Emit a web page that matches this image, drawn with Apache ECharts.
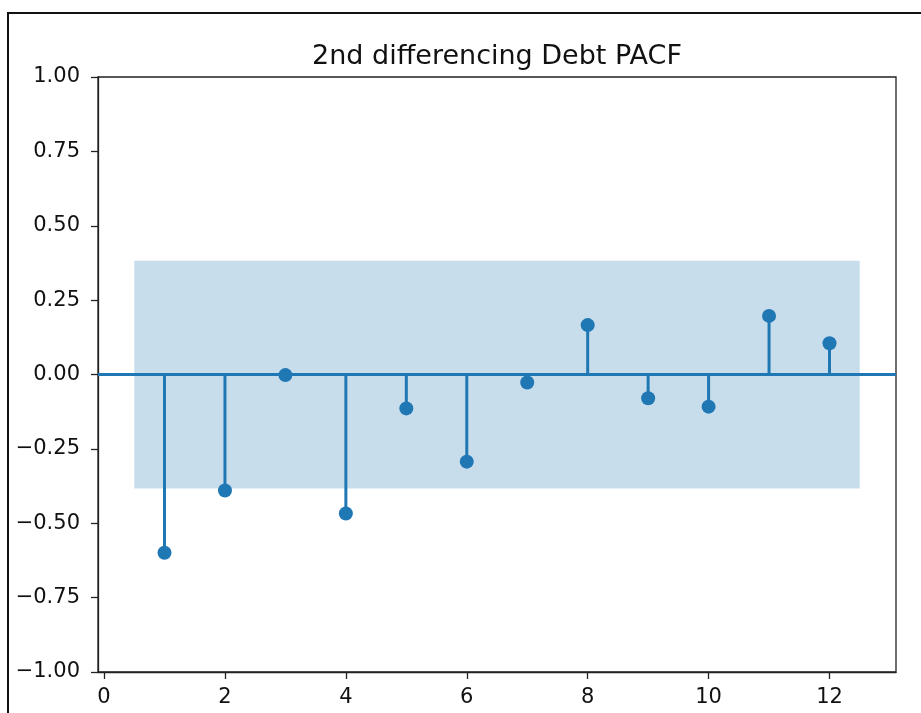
<!DOCTYPE html>
<html>
<head>
<meta charset="utf-8">
<script src="https://cdn.jsdelivr.net/npm/echarts@6/dist/echarts.min.js"></script>
<style>
html,body{margin:0;padding:0;background:#fff;}
#chart{width:921px;height:713px;}
</style>
</head>
<body>
<div id="chart"></div>
<script>
const titleText = "2nd differencing Debt PACF";
const lags = [1, 2, 3, 4, 5, 6, 7, 8, 9, 10, 11, 12];
const pacfValues = [-0.599, -0.390, -0.002, -0.467, -0.114, -0.293, -0.027, 0.166, -0.080, -0.108, 0.197, 0.105];
const confUpper = 0.382;
const confLower = -0.383;
const bandStart = 0.5;
const bandEnd = 12.5;
const xTicks = [0, 2, 4, 6, 8, 10, 12];
const yTicks = [-1.0, -0.75, -0.5, -0.25, 0, 0.25, 0.5, 0.75, 1.0];

const C0 = '#1f77b4';
const FONT = 'DejaVu Sans';

function fmtY(v) {
  const s = Math.abs(v).toFixed(2);
  return (v < -1e-9 ? '\u2212' : '') + s;
}

const chart = echarts.init(document.getElementById('chart'), null, {renderer: 'canvas'});
chart.setOption({
  animation: false,
  backgroundColor: '#fff',
  title: {
    text: titleText,
    left: 492, textAlign: 'center', top: 38,
    textStyle: {fontFamily: FONT, fontSize: 27, fontWeight: 'normal', color: '#111'}
  },
  graphic: [{
    type: 'rect', z: 100, silent: true,
    shape: {x: 8, y: 13, width: 1200, height: 1200},
    style: {fill: 'none', stroke: '#111', lineWidth: 2}
  }],
  grid: {left: 98, right: 25, top: 77, bottom: 41, show: true, borderColor: '#222', borderWidth: 1.3, backgroundColor: 'transparent'},
  xAxis: {
    type: 'value', min: -0.1, max: 13.1,
    splitLine: {show: false},
    axisLine: {show: true, onZero: false, lineStyle: {color: '#222', width: 1.3}},
    axisTick: {show: true, length: 7, lineStyle: {color: '#222', width: 1.3}, customValues: xTicks},
    axisLabel: {fontFamily: FONT, fontSize: 21, color: '#111', margin: 15, customValues: xTicks,
      formatter: v => String(v)}
  },
  yAxis: {
    type: 'value', min: -1, max: 1, interval: 0.25,
    splitLine: {show: false},
    axisLine: {show: true, onZero: false, lineStyle: {color: '#222', width: 1.3}},
    axisTick: {show: true, length: 7, lineStyle: {color: '#222', width: 1.3}},
    axisLabel: {fontFamily: FONT, fontSize: 21, color: '#111', margin: 18, formatter: fmtY}
  },
  series: [
    {
      type: 'line', data: [], silent: true,
      markArea: {
        silent: true,
        itemStyle: {color: 'rgba(31,119,180,0.25)'},
        data: [[{coord: [bandStart, confUpper]}, {coord: [bandEnd, confLower]}]]
      },
      markLine: {
        silent: true, symbol: 'none', label: {show: false},
        lineStyle: {color: C0, width: 2.8, type: 'solid'},
        data: [{yAxis: 0}]
      },
      z: 1
    },
    {
      type: 'custom', z: 3,
      data: lags.map((l, i) => [l, pacfValues[i]]),
      renderItem: function (params, api) {
        const p0 = api.coord([api.value(0), 0]);
        const p1 = api.coord([api.value(0), api.value(1)]);
        return {type: 'line', shape: {x1: p0[0], y1: p0[1], x2: p1[0], y2: p1[1]},
          style: {stroke: C0, lineWidth: 3}};
      }
    },
    {
      type: 'scatter', z: 4,
      symbol: 'circle', symbolSize: 14,
      itemStyle: {color: C0, opacity: 1},
      data: lags.map((l, i) => [l, pacfValues[i]])
    }
  ]
});
</script>
</body>
</html>
